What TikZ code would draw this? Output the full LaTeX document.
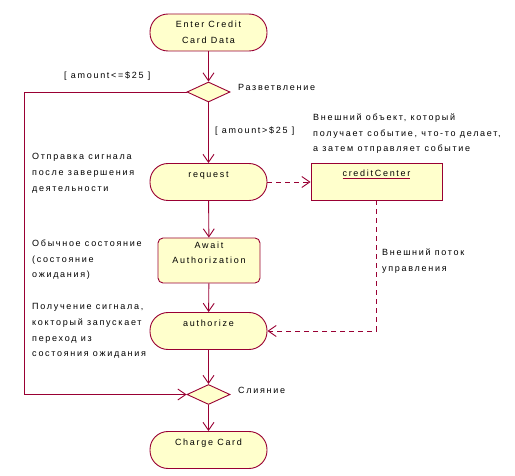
\documentclass[tikz,border=0pt]{standalone}
\usepackage{fontspec}
\setmainfont{Liberation Sans}[LetterSpace=19]
\usepackage{xcolor}
\usepackage{tikz}
\usetikzlibrary{arrows.meta, positioning, shapes.geometric}

\definecolor{umlline}{RGB}{153,0,51}
\definecolor{umlfill}{RGB}{255,255,204}

\begin{document}
\begin{tikzpicture}[
    x=1pt, y=-1pt,
    every node/.style={font=\fontsize{9}{15.7}\selectfont},
    action/.style={draw=umlline, fill=umlfill, line width=0.9pt, rectangle,
                   rounded corners=18pt, minimum width=117pt, minimum height=37pt,
                   align=center, inner sep=0pt},
    waitstate/.style={draw=umlline, fill=umlfill, line width=0.9pt, rectangle,
                   rounded corners=5pt, minimum width=102pt, minimum height=45pt,
                   align=center, inner sep=0pt},
    objbox/.style={draw=umlline, fill=umlfill, line width=0.9pt, rectangle,
                   minimum width=131pt, minimum height=37pt, align=center, inner sep=0pt},
    decision/.style={draw=umlline, fill=umlfill, line width=0.9pt, diamond,
                   aspect=2.15, minimum width=43pt, minimum height=20pt, inner sep=0pt},
    note/.style={anchor=north west, align=left, inner sep=0pt},
    flow/.style={draw=umlline, line width=0.9pt, -{Straight Barb[length=8pt,width=11pt]}},
    signal/.style={flow, dash pattern=on 5pt off 4pt}
]
\useasboundingbox (0,0) rectangle (515,476);

\node[action] (enter) at (208.5,32.5) {Enter Credit\\Card Data};
\node[decision] (branch) at (208.5,92) {};
\node[action] (request) at (208.5,182) {request\\\mbox{}};
\node[objbox] (credit) at (376.5,181.5)
    {{\color{umlline}\underline{\color{black}creditCenter}}\\\mbox{}};
\node[waitstate] (await) at (209,260.5) {Await\\Authorization\\\mbox{}};
\node[action] (authorize) at (208.5,331) {authorize\\\mbox{}};
\node[decision] (merge) at (208.5,394.5) {};
\node[action] (charge) at (208.5,450) {Charge Card\\\mbox{}};

\coordinate (lefttop) at (24,92);
\coordinate (leftbot) at (24,394.5);
\coordinate (bend) at (credit.south |- authorize.east);

\node[note] (branchlbl) at (238,84.5) {Разветвление};
\node[note] (lowguard) at (64,71.5) {[ amount<=\$25 ]};
\node[note] (highguard) at (215,126.5) {[ amount>\$25 ]};
\node[note] (objnote) at (313,113.5) {Внешний объект, который\\получает событие, что-то делает,\\а затем отправляет событие};
\node[note] (sendnote) at (32,153.5) {Отправка сигнала\\после завершения\\деятельности};
\node[note] (waitnote) at (32,239.5) {Обычное состояние\\(состояние\\ожидания)};
\node[note] (extnote) at (382,248.5) {Внешний поток\\управления};
\node[note] (recvnote) at (32,303.5) {Получение сигнала,\\кокторый запускает\\переход из\\состояния ожидания};
\node[note] (mergelbl) at (238,387.5) {Слияние};

\draw[flow] (enter) -- (branch);
\draw[flow] (branch) -- (request);
\draw[flow] (request) -- (await);
\draw[flow] (await) -- (authorize);
\draw[flow] (authorize) -- (merge);
\draw[flow] (merge) -- (charge);
\draw[flow] (branch.west) -- (lefttop) -- (leftbot) -- (merge.west);
\draw[signal] (request.east) -- (credit.west |- request.east);
\draw[signal] (credit.south) -- (bend) -- (authorize.east);
\end{tikzpicture}
\end{document}
